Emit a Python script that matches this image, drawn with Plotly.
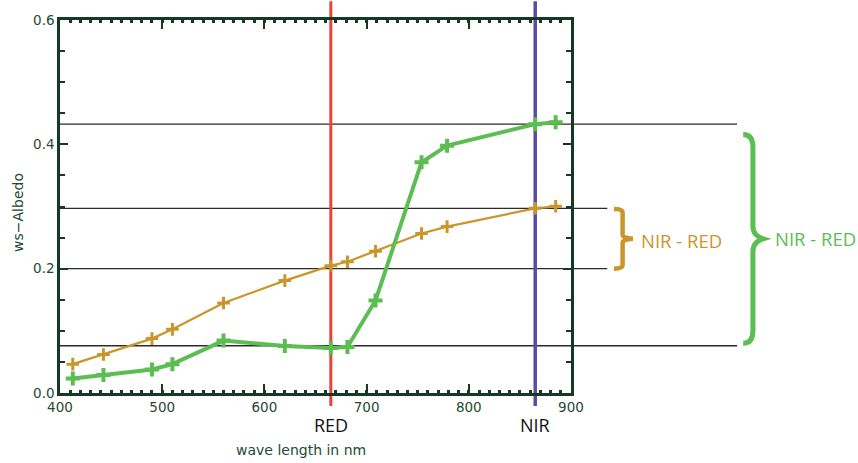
import plotly.graph_objects as go

# MERIS band centres (nm) and white-sky albedo of two surfaces
wavelength = [412.5, 442.5, 490, 510, 560, 620, 665, 681.25, 708.75, 753.75, 778.75, 865, 885]
albedo_orange = [0.0464, 0.0619, 0.0875, 0.1024, 0.1448, 0.1808, 0.2048, 0.2112, 0.2280,
                 0.2565, 0.2677, 0.2971, 0.3003]
albedo_green = [0.0235, 0.0288, 0.0379, 0.0464, 0.0843, 0.0757, 0.0725, 0.0741, 0.1488,
                0.3712, 0.3979, 0.4325, 0.4357]

# band positions marked on the chart
red_band = 665
nir_band = 865

# reference levels (RED / NIR albedo of each surface) and how far right they run (paper x)
level_values = [0.4325, 0.297, 0.2, 0.076]
level_reach = [1.325, 1.071, 1.071, 1.325]

# brace spans (albedo) for the NIR - RED differences
orange_span = (0.2, 0.296)
green_span = (0.08, 0.416)

ORANGE = "#c9962b"
GREEN = "#5cbd53"
AXIS = "#143a24"
TEXT = "#244a33"
TICK_FONT = dict(family="DejaVu Sans", size=13.5, color=TEXT)

fig = go.Figure()

fig.add_trace(go.Scatter(
    x=wavelength, y=albedo_orange, mode="lines+markers",
    line=dict(color=ORANGE, width=2.2),
    marker=dict(symbol="cross-thin", size=9, line=dict(color=ORANGE, width=3)),
    showlegend=False, cliponaxis=False,
))
fig.add_trace(go.Scatter(
    x=wavelength, y=albedo_green, mode="lines+markers",
    line=dict(color=GREEN, width=4),
    marker=dict(symbol="cross-thin", size=10, line=dict(color=GREEN, width=4)),
    showlegend=False, cliponaxis=False,
))

shapes = []
for val, reach in zip(level_values, level_reach):
    shapes.append(dict(type="line", xref="paper", yref="y", x0=0, x1=reach, y0=val, y1=val,
                       line=dict(color="#2b2b2b", width=1.4), layer="below"))

shapes.append(dict(type="line", xref="x", yref="paper", x0=red_band, x1=red_band,
                   y0=-0.035, y1=1.05, line=dict(color="#ec4139", width=3), layer="below"))
shapes.append(dict(type="line", xref="x", yref="paper", x0=nir_band, x1=nir_band,
                   y0=-0.035, y1=1.05, line=dict(color="#5a4ca6", width=3.5), layer="below"))


def brace_path(x0, xs, xt, lo, hi):
    """Right-pointing curly brace from lo to hi; x in paper units, y in albedo."""
    mid = (lo + hi) / 2
    h = hi - lo
    c = h * 0.06
    return (f"M {x0},{hi} Q {xs},{hi} {xs},{hi - c} "
            f"L {xs},{mid + c} Q {xs},{mid + c * 0.25} {xt},{mid} "
            f"Q {xs},{mid - c * 0.25} {xs},{mid - c} "
            f"L {xs},{lo + c} Q {xs},{lo} {x0},{lo}")


shapes.append(dict(type="path", xref="paper", yref="y",
                   path=brace_path(1.084, 1.101, 1.121, *orange_span),
                   line=dict(color=ORANGE, width=4.5)))
shapes.append(dict(type="path", xref="paper", yref="y",
                   path=brace_path(1.337, 1.356, 1.376, *green_span),
                   line=dict(color=GREEN, width=5)))

annotations = [
    dict(text="RED", xref="x", yref="paper", x=red_band, y=-0.085, showarrow=False,
         font=dict(family="Open Sans", size=18, color="#111111"), xanchor="center", yanchor="middle"),
    dict(text="NIR", xref="x", yref="paper", x=nir_band, y=-0.085, showarrow=False,
         font=dict(family="Open Sans", size=18, color="#111111"), xanchor="center", yanchor="middle"),
    dict(text="NIR - RED", xref="paper", yref="y", x=1.133, y=0.2448, showarrow=False,
         font=dict(family="Open Sans", size=18.5, color=ORANGE), xanchor="left", yanchor="middle"),
    dict(text="NIR - RED", xref="paper", yref="y", x=1.395, y=0.248, showarrow=False,
         font=dict(family="Open Sans", size=18.5, color=GREEN), xanchor="left", yanchor="middle"),
    dict(text="ws\u2212Albedo", xref="paper", yref="paper", x=-0.082, y=0.483, showarrow=False,
         textangle=-90, font=dict(family="DejaVu Sans", size=14, color=TEXT),
         xanchor="center", yanchor="middle"),
    dict(text="wave length in nm", xref="paper", yref="paper", x=0.4716, y=-0.152, showarrow=False,
         font=dict(family="DejaVu Sans", size=14, color=TEXT),
         xanchor="center", yanchor="middle"),
]

fig.update_layout(
    width=858, height=463,
    margin=dict(l=60, r=287, t=18, b=70),
    plot_bgcolor="white", paper_bgcolor="white",
    shapes=shapes, annotations=annotations,
    xaxis=dict(
        range=[400, 900], tickvals=[400, 500, 600, 700, 800, 900],
        ticks="inside", ticklen=9, tickwidth=1.5, tickcolor=AXIS,
        minor=dict(dtick=10, ticks="inside", ticklen=3, tickwidth=2.5, tickcolor=AXIS),
        showline=True, linewidth=2.5, linecolor=AXIS, mirror="allticks",
        showgrid=False, zeroline=False, tickfont=TICK_FONT,
    ),
    yaxis=dict(
        range=[0, 0.6], tickvals=[0, 0.2, 0.4, 0.6], tickformat=".1f",
        ticks="inside", ticklen=8, tickwidth=1.5, tickcolor=AXIS,
        minor=dict(dtick=0.05, ticks="inside", ticklen=5, tickwidth=1.5, tickcolor=AXIS),
        showline=True, linewidth=2.5, linecolor=AXIS, mirror="allticks",
        showgrid=False, zeroline=False, tickfont=TICK_FONT,
    ),
)

fig.write_html("out.html")
